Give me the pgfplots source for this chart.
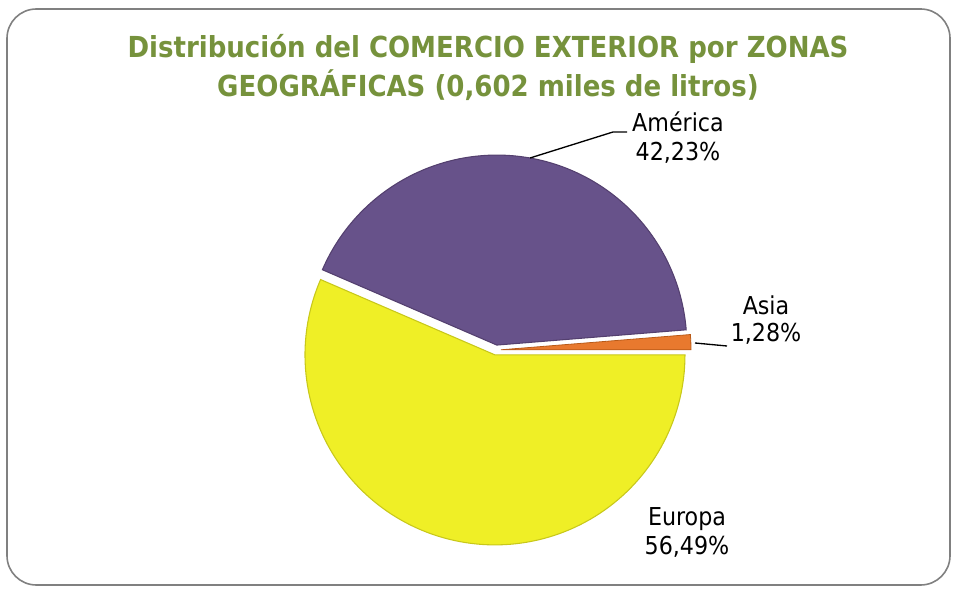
\documentclass[border=0pt]{standalone}
\usepackage{pgfplots}
\pgfplotsset{compat=1.18}
\usepackage{fontspec}
\setmainfont{DejaVu Sans Condensed}
\definecolor{titlegreen}{HTML}{76923C}
\definecolor{amer}{HTML}{67528A}
\definecolor{amerE}{HTML}{54406F}
\definecolor{eur}{HTML}{EFEF26}
\definecolor{eurE}{HTML}{C8C81A}
\definecolor{asia}{HTML}{E8792E}
\definecolor{asiaE}{HTML}{B85A18}
\begin{document}
\begin{tikzpicture}
% shares (percent)
\def\pAm{42.23}\def\pAs{1.28}\def\pEu{56.49}
\def\cx{496}\def\cy{240}\def\R{190}\def\ex{5}
\pgfmathsetmacro\aOne{\pAs*3.6}
\pgfmathsetmacro\aTwo{\aOne+\pAm*3.6}
\pgfmathsetmacro\mAs{\aOne/2}
\pgfmathsetmacro\mAm{(\aOne+\aTwo)/2}
\pgfmathsetmacro\mEu{(\aTwo+360)/2}
\pgfmathsetmacro\xAs{\cx+\ex*cos(\mAs)}\pgfmathsetmacro\yAs{\cy+\ex*sin(\mAs)}
\pgfmathsetmacro\xAm{\cx+\ex*cos(\mAm)}\pgfmathsetmacro\yAm{\cy+\ex*sin(\mAm)}
\pgfmathsetmacro\xEu{\cx+\ex*cos(\mEu)}\pgfmathsetmacro\yEu{\cy+\ex*sin(\mEu)}
\begin{axis}[
  width=717.75pt, height=442.5pt, scale only axis,
  xmin=0, xmax=957, ymin=0, ymax=590,
  hide axis, clip=false,
  anchor=south west, at={(0,0)},
]
\draw[color=black!50, line width=1.2pt, rounded corners=22pt]
  (axis cs:7,5) rectangle (axis cs:950,581);
% Europa
\addplot[draw=eurE, line width=0.8pt, fill=eur, domain=\aTwo:360, samples=120, variable=\t]
  ({\xEu+\R*cos(\t)},{\yEu+\R*sin(\t)}) -- (axis cs:\xEu,\yEu) -- cycle;
% America
\addplot[draw=amerE, line width=0.8pt, fill=amer, domain=\aOne:\aTwo, samples=120, variable=\t]
  ({\xAm+\R*cos(\t)},{\yAm+\R*sin(\t)}) -- (axis cs:\xAm,\yAm) -- cycle;
% Asia
\addplot[draw=asiaE, line width=0.6pt, fill=asia, domain=0:\aOne, samples=10, variable=\t]
  ({\xAs+\R*cos(\t)},{\yAs+\R*sin(\t)}) -- (axis cs:\xAs,\yAs) -- cycle;
% leader lines
\draw[black, line width=1pt] (axis cs:530,432) -- (axis cs:613,458) -- (axis cs:627,458);
\draw[black, line width=1pt] (axis cs:695,247) -- (axis cs:727,244);
% labels
\tikzset{lab/.style={anchor=base, inner sep=0pt, font=\fontsize{18.5}{22}\selectfont}}
\node[lab] at (axis cs:678,458) {América};
\node[lab] at (axis cs:678,429) {42,23\%};
\node[lab] at (axis cs:766,276) {Asia};
\node[lab] at (axis cs:766,248) {1,28\%};
\node[lab] at (axis cs:687,65) {Europa};
\node[lab] at (axis cs:687,36) {56,49\%};
% title
\tikzset{tit/.style={anchor=base, inner sep=0pt, text=titlegreen, font=\fontsize{21.7}{26}\selectfont\bfseries}}
\node[tit] at (axis cs:488,532) {Distribución del COMERCIO EXTERIOR por ZONAS};
\node[tit] at (axis cs:488,493) {GEOGRÁFICAS (0,602 miles de litros)};
\end{axis}
\pgfresetboundingbox
\path[use as bounding box] (0,0) rectangle (717.75pt,442.5pt);
\end{tikzpicture}
\end{document}
